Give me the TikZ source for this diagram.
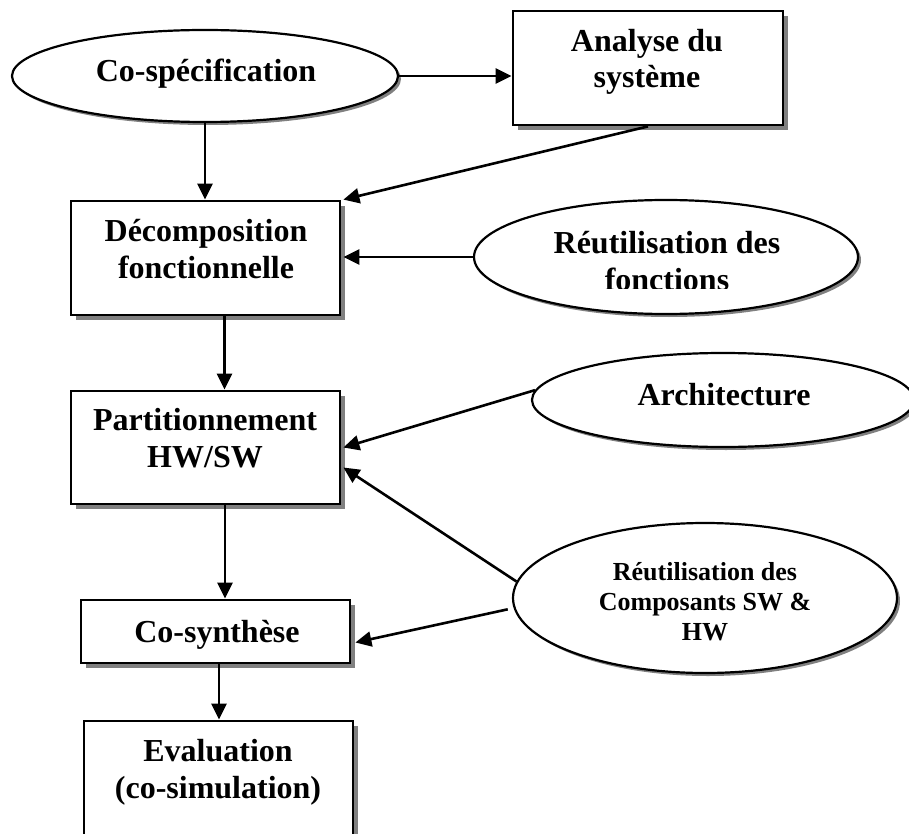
\documentclass[tikz,border=0pt]{standalone}
\usepackage{fontspec}
\setmainfont{Liberation Serif}
\usetikzlibrary{shapes.geometric,shadows,arrows.meta,calc}

\tikzset{
  procbox/.style={draw=black, line width=2.8pt, fill=white, rectangle,
    inner sep=0pt,
    drop shadow={shadow xshift=5pt, shadow yshift=-5pt, fill=black!50, opacity=1}},
  inputell/.style={draw=black, line width=2.2pt, fill=white, ellipse,
    inner sep=0pt,
    drop shadow={shadow xshift=3pt, shadow yshift=-3pt, fill=black!50, opacity=1}},
  % anchor=base of a multi-line label sits on its last line
  lbl/.style={font=\bfseries\fontsize{32}{36.5}\selectfont, align=center,
    inner sep=0pt, anchor=base},
  smalllbl/.style={font=\bfseries\fontsize{26}{30}\selectfont, align=center,
    inner sep=0pt, anchor=base},
  flow/.style={line width=2.6pt, -{Triangle[length=16pt,width=15pt]}},
}

\begin{document}
\begin{tikzpicture}[x=1pt,y=-1pt]
  \useasboundingbox (0,0) rectangle (909,834);
  \clip (0,0) rectangle (909,834);

  % specification and analysis
  \node[inputell, minimum width=386pt, minimum height=92pt] (cospec) at (205,76) {};
  \node[lbl] (cospect) at (206,82) {Co-spécification};

  \node[procbox, minimum width=270pt, minimum height=114pt] (ana) at (648,68) {};
  \node[lbl] (anat) at (647,88) {Analyse du\\système};

  % functional decomposition
  \node[procbox, minimum width=269pt, minimum height=114pt] (dec) at (205.5,258) {};
  \node[lbl] (dect) at (206,278) {Décomposition\\fonctionnelle};

  \node[inputell, minimum width=384pt, minimum height=114pt] (reutf) at (666,257) {};
  \begin{scope}
    \clip (470,200) rectangle (860,288);
    \node[lbl] (reutft) at (667,290) {Réutilisation des\\fonctions};
  \end{scope}

  % partitioning
  \node[procbox, minimum width=269pt, minimum height=113pt] (part) at (205.5,447.5) {};
  \node[lbl] (partt) at (205,467) {Partitionnement\\HW/SW};

  \node[inputell, minimum width=382pt, minimum height=94pt] (arch) at (723,400) {};
  \node[lbl] (archt) at (724,405) {Architecture};

  \node[inputell, minimum width=384pt, minimum height=150pt] (comp) at (705,598) {};
  \node[smalllbl] (compt) at (705,640) {Réutilisation des\\Composants SW \&\\HW};

  % synthesis and evaluation
  \node[procbox, minimum width=269pt, minimum height=63pt] (syn) at (215.5,631.5) {};
  \node[lbl] (synt) at (217,642) {Co-synthèse};

  \node[procbox, minimum width=269pt, minimum height=160pt] (eval) at (218.5,801) {};
  \node[lbl] (evalt) at (218,798) {Evaluation\\(co-simulation)};

  % connectors
  \draw[flow] (cospec.east) -- (cospec.east -| ana.west);
  \draw[flow] (cospec.south) -- (cospec.south |- dec.north);
  \draw[flow] (ana.south) -- ([xshift=2pt]dec.north east);
  \draw[flow] (reutf.west) -- ([xshift=2pt]reutf.west -| dec.east);
  \draw[flow] ([xshift=19pt]dec.south) -- ([xshift=19pt]part.north);
  \draw[flow] (arch.177) -- ([xshift=2pt]part.east);
  \draw[flow] (comp.175) -- ([xshift=2pt,yshift=-20pt]part.east);
  \draw[flow, shorten <=6pt] (comp.183) -- ([xshift=4pt,yshift=-11pt]syn.east);
  \draw[flow] ([xshift=19.5pt]part.south) -- ([xshift=19.5pt]part.south |- syn.north);
  \draw[flow] ([xshift=3.5pt]syn.south) -- ([xshift=3.5pt]syn.south |- eval.north);
\end{tikzpicture}
\end{document}
